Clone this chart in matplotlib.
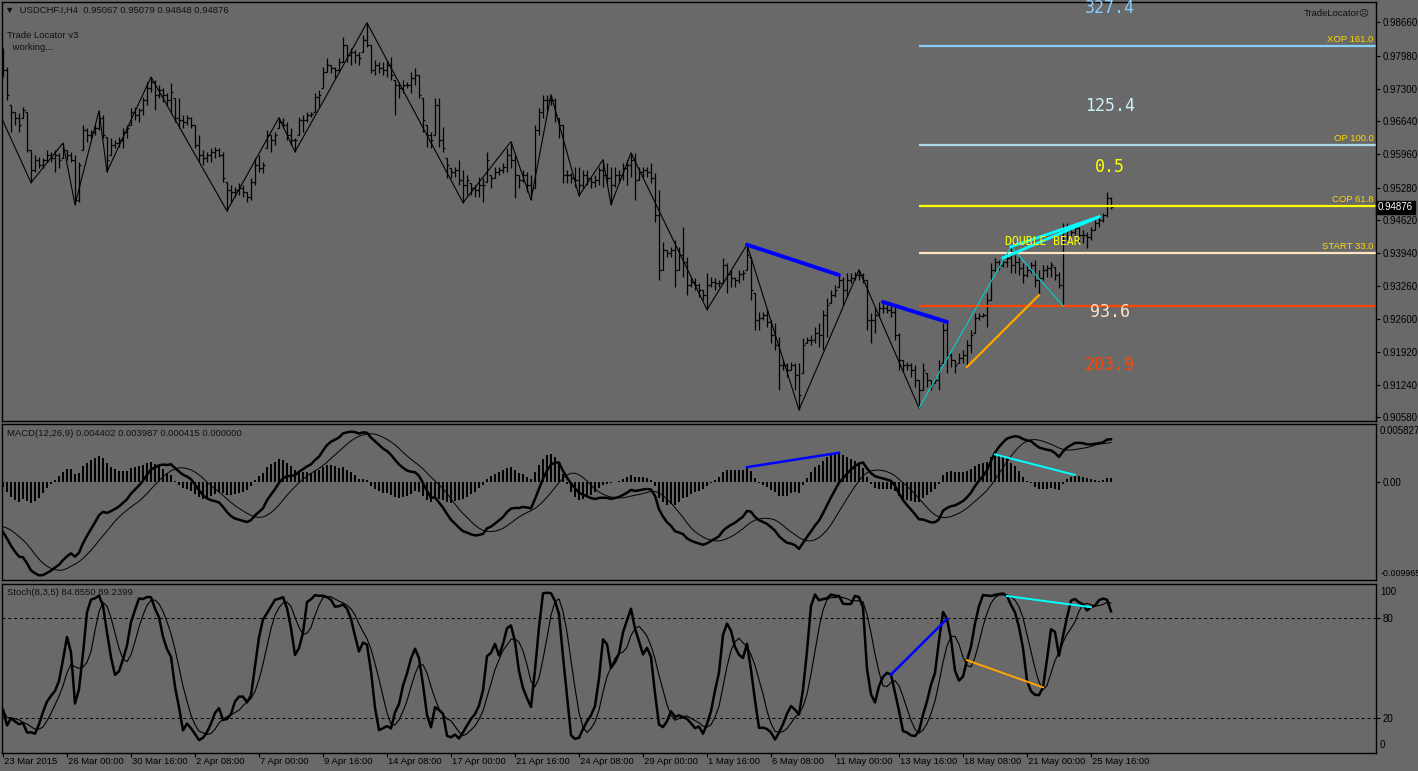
import numpy as np
import pandas as pd
import matplotlib
matplotlib.use("Agg")
import matplotlib.pyplot as plt
import matplotlib.transforms as mtransforms

plt.rcParams['font.family'] = ['Liberation Sans', 'DejaVu Sans']

# ---------------- data (prices in pips, 1e-4) ----------------
x_labels = ["23 Mar 2015", "26 Mar 00:00", "30 Mar 16:00", "2 Apr 08:00", "7 Apr 00:00",
            "9 Apr 16:00", "14 Apr 08:00", "17 Apr 00:00", "21 Apr 16:00", "24 Apr 08:00",
            "29 Apr 00:00", "1 May 16:00", "6 May 08:00", "11 May 00:00", "13 May 16:00",
            "18 May 08:00", "21 May 00:00", "25 May 16:00"]

high_pips = [
    9814, 9775, 9697, 9683, 9681, 9693, 9683, 9605, 9595, 9591,
    9589, 9605, 9601, 9605, 9599, 9619, 9605, 9601, 9595, 9581,
    9656, 9650, 9646, 9656, 9685, 9677, 9632, 9630, 9626, 9632,
    9650, 9656, 9691, 9693, 9691, 9714, 9744, 9754, 9748, 9738,
    9732, 9722, 9742, 9711, 9711, 9677, 9677, 9673, 9656, 9636,
    9605, 9601, 9609, 9611, 9609, 9601, 9540, 9533, 9529, 9538,
    9533, 9519, 9548, 9589, 9595, 9581, 9646, 9636, 9642, 9671,
    9671, 9662, 9650, 9630, 9673, 9677, 9683, 9683, 9722, 9728,
    9775, 9793, 9779, 9775, 9793, 9836, 9820, 9814, 9810, 9806,
    9840, 9865, 9820, 9789, 9785, 9785, 9789, 9795, 9748, 9744,
    9748, 9744, 9765, 9773, 9759, 9711, 9656, 9642, 9711, 9711,
    9652, 9589, 9568, 9570, 9585, 9564, 9554, 9538, 9533, 9550,
    9548, 9601, 9554, 9570, 9570, 9578, 9609, 9622, 9595, 9554,
    9564, 9560, 9554, 9656, 9691, 9718, 9718, 9718, 9711, 9671,
    9656, 9564, 9558, 9570, 9570, 9564, 9564, 9550, 9554, 9570,
    9585, 9578, 9570, 9570, 9564, 9578, 9585, 9599, 9599, 9570,
    9570, 9570, 9578, 9558, 9523, 9417, 9400, 9407, 9421, 9407,
    9448, 9386, 9345, 9343, 9333, 9319, 9353, 9345, 9343, 9339,
    9384, 9374, 9360, 9345, 9360, 9360, 9411, 9386, 9312, 9274,
    9274, 9278, 9257, 9251, 9222, 9175, 9169, 9171, 9169, 9169,
    9220, 9222, 9226, 9243, 9251, 9278, 9302, 9319, 9329, 9349,
    9345, 9353, 9353, 9355, 9360, 9353, 9339, 9272, 9282, 9294,
    9294, 9288, 9292, 9284, 9231, 9175, 9171, 9169, 9165, 9135,
    9169, 9149, 9135, 9141, 9175, 9251, 9253, 9190, 9175, 9190,
    9196, 9216, 9237, 9272, 9272, 9272, 9312, 9374, 9384, 9380,
    9384, 9396, 9407, 9390, 9386, 9374, 9370, 9376, 9380, 9360,
    9370, 9370, 9376, 9366, 9355, 9456, 9456, 9448, 9452, 9448,
    9441, 9437, 9448, 9462, 9468, 9476, 9519, 9507.9]

low_pips = [
    9754, 9707, 9642, 9656, 9642, 9671, 9601, 9538, 9560, 9568,
    9568, 9581, 9581, 9560, 9568, 9589, 9585, 9581, 9493, 9499,
    9605, 9622, 9630, 9636, 9646, 9630, 9560, 9595, 9609, 9611,
    9609, 9630, 9656, 9666, 9662, 9677, 9697, 9724, 9687, 9711,
    9703, 9697, 9683, 9662, 9650, 9650, 9656, 9650, 9609, 9581,
    9574, 9581, 9581, 9589, 9591, 9540, 9480, 9499, 9509, 9513,
    9509, 9499, 9503, 9533, 9560, 9558, 9609, 9601, 9615, 9650,
    9650, 9626, 9615, 9601, 9636, 9642, 9662, 9673, 9683, 9693,
    9732, 9765, 9763, 9752, 9765, 9785, 9785, 9779, 9783, 9779,
    9806, 9816, 9763, 9759, 9763, 9759, 9754, 9748, 9677, 9711,
    9722, 9732, 9722, 9738, 9711, 9642, 9611, 9609, 9636, 9611,
    9601, 9548, 9548, 9550, 9533, 9497, 9513, 9513, 9509, 9509,
    9499, 9540, 9527, 9548, 9554, 9558, 9560, 9568, 9507, 9527,
    9540, 9519, 9503, 9527, 9636, 9671, 9683, 9697, 9662, 9630,
    9538, 9538, 9538, 9529, 9511, 9527, 9533, 9527, 9529, 9533,
    9529, 9533, 9493, 9529, 9538, 9544, 9533, 9550, 9503, 9544,
    9550, 9550, 9538, 9458, 9339, 9360, 9386, 9386, 9325, 9360,
    9345, 9308, 9325, 9319, 9304, 9298, 9278, 9325, 9319, 9325,
    9333, 9313, 9325, 9325, 9333, 9339, 9360, 9298, 9237, 9237,
    9257, 9243, 9210, 9196, 9114, 9155, 9141, 9155, 9114, 9073,
    9149, 9210, 9206, 9210, 9202, 9196, 9222, 9292, 9304, 9325,
    9288, 9304, 9333, 9339, 9339, 9333, 9237, 9210, 9231, 9263,
    9272, 9272, 9263, 9216, 9155, 9151, 9155, 9141, 9120, 9077,
    9114, 9120, 9114, 9128, 9114, 9169, 9149, 9161, 9149, 9169,
    9169, 9161, 9190, 9231, 9257, 9263, 9243, 9298, 9355, 9360,
    9366, 9366, 9353, 9353, 9349, 9333, 9345, 9353, 9325, 9308,
    9339, 9345, 9345, 9339, 9323, 9286, 9421, 9427, 9431, 9417,
    9415, 9405, 9421, 9441, 9448, 9458, 9468, 9484.8]

close_pips = [
    9769, 9718, 9683, 9671, 9656, 9687, 9605, 9564, 9585, 9574,
    9585, 9595, 9589, 9595, 9585, 9605, 9595, 9585, 9503, 9574,
    9646, 9636, 9642, 9650, 9671, 9636, 9585, 9615, 9619, 9626,
    9642, 9650, 9683, 9677, 9687, 9707, 9732, 9744, 9718, 9728,
    9718, 9707, 9724, 9671, 9666, 9662, 9671, 9656, 9615, 9595,
    9589, 9595, 9601, 9605, 9595, 9548, 9523, 9519, 9523, 9527,
    9519, 9509, 9540, 9574, 9568, 9574, 9636, 9626, 9636, 9662,
    9656, 9636, 9626, 9626, 9666, 9666, 9677, 9679, 9714, 9718,
    9765, 9779, 9773, 9769, 9785, 9820, 9800, 9806, 9800, 9793,
    9830, 9820, 9769, 9779, 9773, 9769, 9779, 9759, 9738, 9732,
    9738, 9738, 9752, 9759, 9718, 9666, 9636, 9626, 9697, 9626,
    9609, 9574, 9560, 9564, 9544, 9533, 9544, 9527, 9523, 9533,
    9533, 9585, 9548, 9560, 9564, 9570, 9595, 9585, 9554, 9544,
    9554, 9533, 9523, 9646, 9683, 9707, 9707, 9707, 9677, 9656,
    9554, 9554, 9548, 9544, 9533, 9554, 9548, 9540, 9544, 9564,
    9554, 9548, 9533, 9554, 9554, 9568, 9574, 9585, 9544, 9560,
    9564, 9560, 9548, 9472, 9360, 9400, 9394, 9400, 9360, 9390,
    9376, 9329, 9335, 9329, 9319, 9308, 9329, 9335, 9333, 9333,
    9370, 9351, 9343, 9339, 9351, 9353, 9390, 9319, 9257, 9261,
    9267, 9253, 9226, 9206, 9165, 9165, 9155, 9165, 9145, 9104,
    9206, 9216, 9216, 9231, 9226, 9267, 9288, 9308, 9319, 9339,
    9319, 9339, 9343, 9349, 9349, 9339, 9257, 9257, 9267, 9282,
    9282, 9278, 9274, 9226, 9175, 9165, 9165, 9155, 9135, 9114,
    9155, 9135, 9124, 9135, 9165, 9237, 9185, 9175, 9165, 9179,
    9185, 9206, 9226, 9261, 9265, 9267, 9298, 9360, 9376, 9370,
    9376, 9384, 9370, 9376, 9364, 9349, 9360, 9370, 9339, 9343,
    9360, 9364, 9370, 9349, 9329, 9441, 9441, 9437, 9446, 9431,
    9431, 9427, 9441, 9456, 9462, 9472, 9506.7, 9487.6]

first_open_pips = 9780

# zigzag pivots (bar index, 'H'/'L')
zz_idx = [7, 15, 18, 24, 26, 37, 56, 69, 73, 91, 115, 127, 132, 137, 144,
          150, 152, 157, 176, 186, 199, 214, 229]
zz_kind = "LHLHLHLHLHLHLHLHLHLHLHL"
zz_start_price = 0.9664

# indicator seeds (state before first visible bar)
macd_fast_seed = 0.9863
macd_slow_seed = 0.9910
macd_signal_seed = -0.0045

# fib projection pivots A (low), B (high), C (low)
fib_a, fib_b, fib_c = 229, 252, 265
fib_levels = [1.61, 1.00, 0.618, 0.33, 0.0]
fib_names = ["XOP 161.0", "OP 100.0", "COP 61.8", "START 33.0", ""]
fib_colors = ["#87CEFA", "#ADD8E6", "#FFFF00", "#FFE4C4", "#FF4500"]

# ---------------- derived ----------------
H = np.array(high_pips, float) / 1e4
L = np.array(low_pips, float) / 1e4
C = np.array(close_pips, float) / 1e4
n = len(C)
O = np.concatenate([[first_open_pips / 1e4], C[:-1]])
O = np.clip(O, L, H)
idx = np.arange(n)

af, as_ = 2 / 13, 2 / 27
pf, ps = macd_fast_seed, macd_slow_seed
ema_f = np.empty(n)
ema_s = np.empty(n)
for i in range(n):
    pf += af * (C[i] - pf)
    ps += as_ * (C[i] - ps)
    ema_f[i], ema_s[i] = pf, ps
macd_main = ema_f - ema_s
padded = np.concatenate([np.full(8, macd_signal_seed), macd_main])
macd_sig = pd.Series(padded).rolling(9).mean().values[8:]
macd_hist = macd_main - macd_sig

sH, sL, sC = pd.Series(H), pd.Series(L), pd.Series(C)
hh = sH.rolling(8, min_periods=1).max()
ll = sL.rolling(8, min_periods=1).min()
num = (sC - ll).rolling(3, min_periods=1).sum()
den = (hh - ll).rolling(3, min_periods=1).sum()
stoch_k = (100 * num / den).values
stoch_d = pd.Series(stoch_k).rolling(5, min_periods=1).mean().values

# ---------------- figure ----------------
BG = "#696969"
W, HT = 1418, 771
fig = plt.figure(figsize=(W / 100, HT / 100), dpi=100)
fig.patch.set_facecolor(BG)


def rect(x0, y0, x1, y1):
    return [x0 / W, 1 - y1 / HT, (x1 - x0) / W, (y1 - y0) / HT]


ax1 = fig.add_axes(rect(2, 2, 1376, 421))
ax2 = fig.add_axes(rect(2, 424, 1376, 580))
ax3 = fig.add_axes(rect(2, 584, 1376, 753))
XL = (-0.25, 343.25)
for ax in (ax1, ax2, ax3):
    ax.set_facecolor(BG)
    ax.set_xlim(*XL)
    for s in ax.spines.values():
        s.set_color("black")
        s.set_linewidth(1.0)
    ax.yaxis.tick_right()
    ax.tick_params(axis="y", length=3, width=0.8, colors="black", labelsize=7, pad=1.5,
                   direction="out")
    ax.tick_params(axis="x", length=0, labelbottom=False)

# ---- main price panel ----
ax1.set_ylim(0.90504, 0.99075)
ax1.vlines(idx, L, H, color="black", lw=0.9)
ax1.hlines(O, idx - 0.45, idx, color="black", lw=0.9)
ax1.hlines(C, idx, idx + 0.45, color="black", lw=0.9)
price_ticks = [0.98660, 0.97980, 0.97300, 0.96640, 0.95960, 0.95280, 0.94620,
               0.93940, 0.93260, 0.92600, 0.91920, 0.91240, 0.90580]
ax1.set_yticks(price_ticks)
ax1.set_yticklabels([f"{v:.5f}" for v in price_ticks])

zx = [0] + zz_idx
zy = [zz_start_price] + [H[i] if k == "H" else L[i] for i, k in zip(zz_idx, zz_kind)]
ax1.plot(zx, zy, color="black", lw=0.8, zorder=3)

# thin cyan swing A-B-C
ax1.plot([fib_a, fib_b, fib_c], [L[fib_a], H[fib_b], L[fib_c]], color="#00CED1", lw=0.8, zorder=4)

# fib projection lines
AB = H[fib_b] - L[fib_a]
for lev, name, col in zip(fib_levels, fib_names, fib_colors):
    yv = L[fib_c] + lev * AB
    ax1.plot([fib_a, XL[1]], [yv, yv], color=col, lw=1.6, zorder=2, solid_capstyle="butt")
    if name:
        ax1.text(342.6, yv + 0.0004, name, color="#FFD700", fontsize=6.8, ha="right",
                 va="bottom", zorder=5)

# divergence lines on price
ax1.plot([186, 209], [H[186], H[209]], color="#0000FF", lw=2.8, zorder=5, solid_capstyle="round")
ax1.plot([220, 236], [H[220], H[236]], color="#0000FF", lw=2.8, zorder=5, solid_capstyle="round")
ax1.plot([241, 259], [L[241], L[259]], color="#FFA500", lw=1.6, zorder=5)
ax1.plot([250, 274], [H[250], H[274]], color="#00FFFF", lw=2.0, zorder=5)
ax1.plot([252, 274], [H[252], H[274]], color="#00FFFF", lw=2.0, zorder=5)

ax1.text(250.5, 0.9418, "DOUBLE BEAR", color="#FFFF00", fontsize=8.3,
         family="DejaVu Sans Mono", ha="left", va="center", zorder=6)
for txt, yv, col in [("327.4", 0.98953, "#87CEFA"), ("125.4", 0.96947, "#C8F0F8"),
                     ("0.5", 0.95699, "#FFFF00"), ("93.6", 0.92733, "#FFE4C4"),
                     ("203.9", 0.91649, "#FF4500")]:
    ax1.text(276.75, yv, txt, color=col, fontsize=12, family="DejaVu Sans Mono",
             ha="center", va="center", zorder=6, clip_on=False)

# current price box
tr = mtransforms.blended_transform_factory(ax1.transAxes, ax1.transData)
ax1.text(1.0015, C[-1], f"{C[-1]:.5f}", transform=tr, color="white", fontsize=7,
         ha="left", va="center",
         bbox=dict(boxstyle="square,pad=0.18", facecolor="black", edgecolor="black"))

# ---- MACD panel ----
ax2.set_ylim(-0.009965, 0.005827)
ax2.bar(idx, macd_hist, width=0.6, color="black", linewidth=0)
ax2.plot(idx, macd_main, color="black", lw=1.8)
ax2.plot(idx, macd_sig, color="black", lw=0.7)
ax2.plot([186, 209], [macd_hist[186], macd_hist[209]], color="#0000FF", lw=1.8)
ax2.plot([248, 268], [macd_hist[248], macd_hist[268]], color="#00FFFF", lw=1.4)
ax2.set_yticks([0.0])
ax2.set_yticklabels(["0.00"])
ax2.text(1.003, 0.985, "0.005827", transform=ax2.transAxes, fontsize=7, va="top", ha="left")
ax2.text(1.003, 0.015, "-0.009965", transform=ax2.transAxes, fontsize=6.4, va="bottom", ha="left")
ax2.text(0.004, 0.94, "MACD(12,26,9) 0.004402 0.003987 0.000415 0.000000",
         transform=ax2.transAxes, fontsize=6.8, color="#111111", va="center", ha="left")

# ---- Stochastic panel ----
ax3.set_ylim(-1.0, 100.4)
ax3.axhline(80, color="black", lw=0.7, ls=(0, (3, 3)))
ax3.axhline(20, color="black", lw=0.7, ls=(0, (3, 3)))
ax3.plot(idx, stoch_k, color="black", lw=1.8)
ax3.plot(idx, stoch_d, color="black", lw=0.8)
ax3.plot([222, 236], [stoch_k[222], stoch_k[236]], color="#0000FF", lw=1.8)
ax3.plot([241, 260], [stoch_k[241], stoch_k[260]], color="#FFA500", lw=1.4)
ax3.plot([251, 272], [stoch_k[251], stoch_k[272]], color="#00FFFF", lw=1.4)
ax3.set_yticks([80, 20])
ax3.set_yticklabels(["80", "20"])
ax3.text(1.003, 0.985, "100", transform=ax3.transAxes, fontsize=7, va="top", ha="left")
ax3.text(1.003, 0.015, "0", transform=ax3.transAxes, fontsize=7, va="bottom", ha="left")
ax3.text(0.004, 0.95, "Stoch(8,3,5) 84.8550 89.2399", transform=ax3.transAxes,
         fontsize=6.8, color="#111111", va="center", ha="left")

# x axis
xt = np.arange(len(x_labels)) * 16
ax3.set_xticks(xt)
ax3.tick_params(axis="x", length=3, width=0.8, direction="out", colors="black")
trx = mtransforms.blended_transform_factory(ax3.transData, ax3.transAxes)
for xv, lab in zip(xt, x_labels):
    ax3.text(xv + 0.35, -0.025, lab, transform=trx, fontsize=6.8, ha="left", va="top",
             color="black")

# header texts
fig.text(5 / W, 1 - 10.5 / HT, "\u25BC  USDCHF.I,H4  0.95067 0.95079 0.94848 0.94876",
         fontsize=6.8, color="#111111", va="center", ha="left")
fig.text(7 / W, 1 - 35 / HT, "Trade Locator v3", fontsize=6.8, color="#111111",
         va="center", ha="left")
fig.text(10 / W, 1 - 48 / HT, " working...", fontsize=6.8, color="#111111",
         va="center", ha="left")
fig.text(1370 / W, 1 - 12.5 / HT, "TradeLocator\u2639", fontsize=6.8, color="#111111",
         va="center", ha="right")

fig.savefig("out.png", dpi=100, facecolor=BG)
